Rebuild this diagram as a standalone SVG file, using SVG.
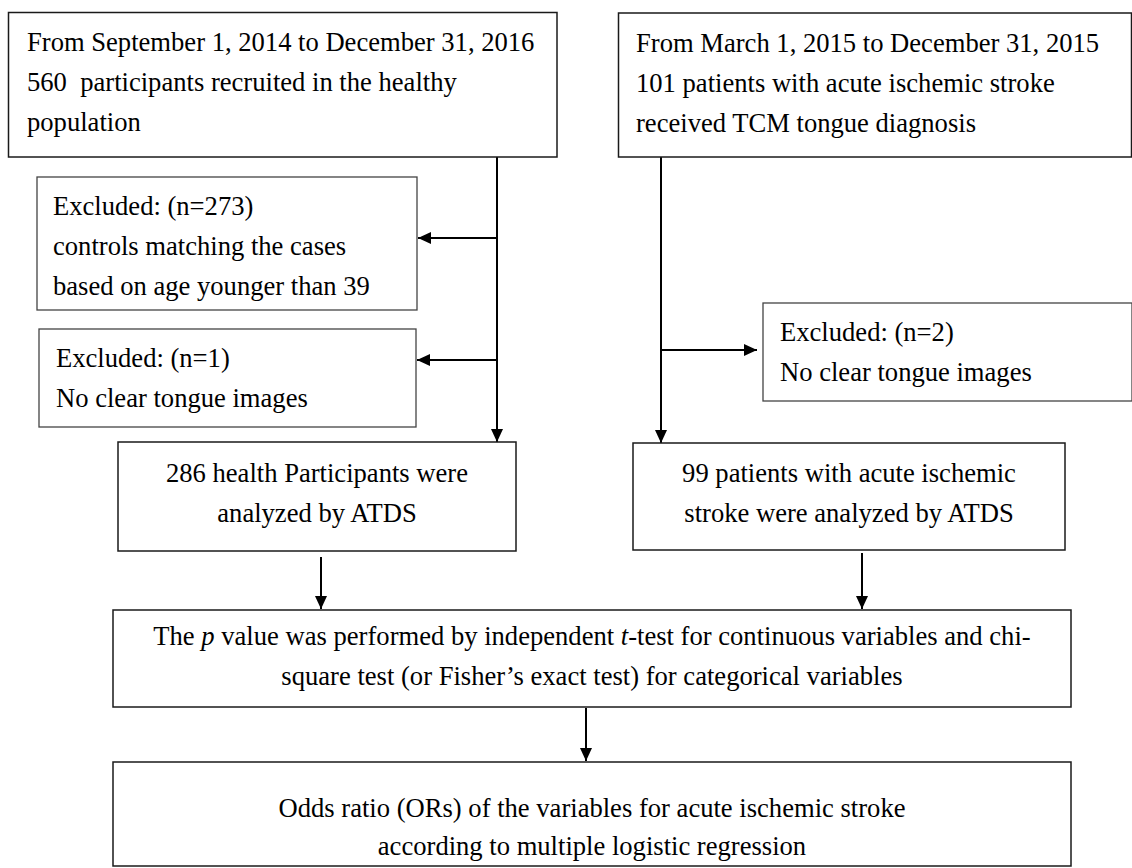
<svg xmlns="http://www.w3.org/2000/svg" width="1132" height="868" viewBox="0 0 1132 868">
<style>
  .box { fill: #fff; stroke: #1a1a1a; stroke-width: 1.5; }
  .box2 { fill: #fff; stroke: #444; stroke-width: 1.3; }
  .t { font-family: "Liberation Serif", "Times New Roman", serif; font-size: 26.6px; fill: #000; white-space: pre; }
  .c { text-anchor: middle; }
  .ln { stroke: #000; stroke-width: 2; fill: none; }
</style>
<defs>
  <marker id="ah" markerUnits="userSpaceOnUse" markerWidth="14" markerHeight="12" refX="13" refY="6" orient="auto">
    <path d="M0,0 L13,6 L0,12 Z" fill="#000"/>
  </marker>
</defs>
<rect width="1132" height="868" fill="#fff"/>

<g id="connectors">
  <line class="ln" x1="497" y1="157" x2="497" y2="442" marker-end="url(#ah)"/>
  <line class="ln" x1="497" y1="238" x2="418" y2="238" marker-end="url(#ah)"/>
  <line class="ln" x1="497" y1="360" x2="417" y2="360" marker-end="url(#ah)"/>
  <line class="ln" x1="661" y1="157" x2="661" y2="443" marker-end="url(#ah)"/>
  <line class="ln" x1="661" y1="350" x2="757" y2="350" marker-end="url(#ah)"/>
  <line class="ln" x1="321" y1="557" x2="321" y2="609" marker-end="url(#ah)"/>
  <line class="ln" x1="862" y1="553" x2="862" y2="609" marker-end="url(#ah)"/>
  <line class="ln" x1="586" y1="708" x2="586" y2="761" marker-end="url(#ah)"/>
</g>

<g id="n1">
  <rect class="box" x="8.5" y="12.5" width="548.5" height="144.5"/>
  <text class="t" x="27" y="51">From September 1, 2014 to December 31, 2016</text>
  <text class="t" x="27" y="91">560  participants recruited in the healthy</text>
  <text class="t" x="27" y="131">population</text>
</g>

<g id="n2">
  <rect class="box" x="618.5" y="13" width="513" height="144"/>
  <text class="t" x="636" y="52">From March 1, 2015 to December 31, 2015</text>
  <text class="t" x="636" y="92">101 patients with acute ischemic stroke</text>
  <text class="t" x="636" y="132">received TCM tongue diagnosis</text>
</g>

<g id="n3">
  <rect class="box2" x="37" y="177" width="380" height="133"/>
  <text class="t" x="53" y="215">Excluded: (n=273)</text>
  <text class="t" x="53" y="255">controls matching the cases</text>
  <text class="t" x="53" y="295">based on age younger than 39</text>
</g>

<g id="n4">
  <rect class="box2" x="39" y="329" width="377" height="98"/>
  <text class="t" x="56" y="367">Excluded: (n=1)</text>
  <text class="t" x="56" y="407">No clear tongue images</text>
</g>

<g id="n5">
  <rect class="box2" x="763" y="303" width="369" height="98"/>
  <text class="t" x="780" y="341">Excluded: (n=2)</text>
  <text class="t" x="780" y="381">No clear tongue images</text>
</g>

<g id="n6">
  <rect class="box" x="118" y="442" width="398" height="109"/>
  <text class="t c" x="317" y="482">286 health Participants were</text>
  <text class="t c" x="317" y="522">analyzed by ATDS</text>
</g>

<g id="n7">
  <rect class="box" x="633" y="443" width="432" height="107"/>
  <text class="t c" x="849" y="482">99 patients with acute ischemic</text>
  <text class="t c" x="849" y="522">stroke were analyzed by ATDS</text>
</g>

<g id="n8">
  <rect class="box" x="113" y="610" width="958" height="97"/>
  <text class="t c" x="592" y="645">The <tspan font-style="italic">p</tspan> value was performed by independent <tspan font-style="italic">t</tspan>-test for continuous variables and chi-</text>
  <text class="t c" x="592" y="685">square test (or Fisher’s exact test) for categorical variables</text>
</g>

<g id="n9">
  <rect class="box" x="113" y="762" width="958" height="104"/>
  <text class="t c" x="592" y="817">Odds ratio (ORs) of the variables for acute ischemic stroke</text>
  <text class="t c" x="592" y="855">according to multiple logistic regression</text>
</g>
</svg>
